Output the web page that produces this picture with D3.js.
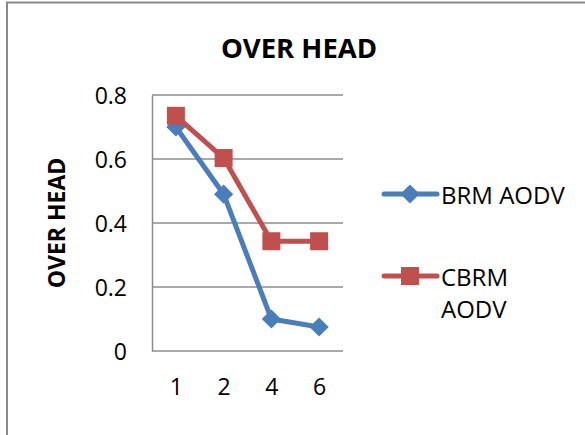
<!DOCTYPE html>
<html>
<head>
<meta charset="utf-8">
<script src="https://cdn.jsdelivr.net/npm/d3@7"></script>
<style>
  body { margin: 0; background: #fff; }
  text { font-family: "Open Sans", sans-serif; fill: #000; }
</style>
</head>
<body>
<div id="chart"></div>
<script>
const categories = ["1", "2", "4", "6"];
const brmValues = [0.70, 0.49, 0.10, 0.075];
const cbrmValues = [0.735, 0.603, 0.343, 0.343];
const yTicks = [0, 0.2, 0.4, 0.6, 0.8];
const seriesNames = ["BRM AODV", "CBRM AODV"];

const width = 585, height = 435;
const margin = { top: 95, right: 242, bottom: 84, left: 152 };

const svg = d3.select("#chart")
    .append("svg")
    .attr("width", width)
    .attr("height", height);

// outer frame (only top and left visible)
svg.append("rect")
    .attr("x", 7)
    .attr("y", 2.5)
    .attr("width", 700)
    .attr("height", 600)
    .attr("fill", "none")
    .attr("stroke", "#8a8a8a")
    .attr("stroke-width", 2);

const x = d3.scalePoint()
    .domain(categories)
    .range([margin.left, width - margin.right])
    .padding(0.5);

const y = d3.scaleLinear()
    .domain([0, 0.8])
    .range([height - margin.bottom, margin.top]);

// gridlines
svg.append("g")
    .selectAll("line")
    .data(yTicks.slice(1))
    .enter()
    .append("line")
    .attr("x1", margin.left)
    .attr("x2", width - margin.right)
    .attr("y1", d => y(d))
    .attr("y2", d => y(d))
    .attr("stroke", "#8c8c8c")
    .attr("stroke-width", 1.5);

// axes
const yAxis = svg.append("g")
    .attr("transform", `translate(${margin.left}, 0)`)
    .call(d3.axisLeft(y).tickValues(yTicks).tickSize(0).tickPadding(25).tickFormat(d => d === 0 ? "0" : d3.format(".1f")(d)));
yAxis.select(".domain").attr("stroke", "#8c8c8c").attr("stroke-width", 1.5);
yAxis.selectAll("text").attr("font-size", "23px").attr("font-family", "Open Sans").attr("dy", "0.36em");

const xAxis = svg.append("g")
    .attr("transform", `translate(0, ${height - margin.bottom})`)
    .call(d3.axisBottom(x).tickSize(0).tickPadding(28));
xAxis.select(".domain").attr("d", `M${margin.left},0H${width - margin.right}`)
    .attr("stroke", "#8c8c8c").attr("stroke-width", 1.5);
xAxis.selectAll("text").attr("font-size", "23px").attr("font-family", "Open Sans");

// title
svg.append("text")
    .attr("x", 299)
    .attr("y", 58)
    .attr("text-anchor", "middle")
    .attr("font-size", "27.5px")
    .attr("font-weight", "bold")
    .text("OVER HEAD");

// y axis title
svg.append("text")
    .attr("transform", `translate(65, ${(margin.top + height - margin.bottom) / 2}) rotate(-90)`)
    .attr("text-anchor", "middle")
    .attr("font-size", "23px")
    .attr("font-weight", "bold")
    .text("OVER HEAD");

const line = d3.line()
    .x((d, i) => x(categories[i]))
    .y(d => y(d));

const blue = "#4a7ebb", red = "#c0504d";

svg.append("path")
    .datum(brmValues)
    .attr("d", line)
    .attr("fill", "none")
    .attr("stroke", blue)
    .attr("stroke-width", 5)
    .attr("stroke-linejoin", "round");

svg.selectAll("path.diamond")
    .data(brmValues)
    .enter()
    .append("path")
    .attr("class", "diamond")
    .attr("transform", (d, i) => `translate(${x(categories[i])}, ${y(d)}) rotate(45)`)
    .attr("d", "M-6.8,-6.8H6.8V6.8H-6.8Z")
    .attr("fill", blue);

svg.append("path")
    .datum(cbrmValues)
    .attr("d", line)
    .attr("fill", "none")
    .attr("stroke", red)
    .attr("stroke-width", 5)
    .attr("stroke-linejoin", "round");

svg.selectAll("rect.sq")
    .data(cbrmValues)
    .enter()
    .append("rect")
    .attr("class", "sq")
    .attr("x", (d, i) => x(categories[i]) - 9)
    .attr("y", d => y(d) - 9)
    .attr("width", 18)
    .attr("height", 18)
    .attr("fill", red);

// legend
const legend = svg.append("g");

legend.append("line")
    .attr("x1", 384).attr("x2", 437)
    .attr("y1", 194).attr("y2", 194)
    .attr("stroke", blue).attr("stroke-width", 5).attr("stroke-linecap", "round");
legend.append("path")
    .attr("transform", "translate(410, 194) rotate(45)")
    .attr("d", "M-6.8,-6.8H6.8V6.8H-6.8Z")
    .attr("fill", blue);
legend.append("text")
    .attr("x", 441).attr("y", 204)
    .attr("font-size", "24px")
    .text(seriesNames[0]);

legend.append("line")
    .attr("x1", 384).attr("x2", 437)
    .attr("y1", 276).attr("y2", 276)
    .attr("stroke", red).attr("stroke-width", 5).attr("stroke-linecap", "round");
legend.append("rect")
    .attr("x", 401).attr("y", 267)
    .attr("width", 18).attr("height", 18)
    .attr("fill", red);
const cb = legend.append("text")
    .attr("x", 441).attr("y", 286)
    .attr("font-size", "24px");
cb.append("tspan").attr("x", 441).text(seriesNames[1].split(" ")[0]);
cb.append("tspan").attr("x", 441).attr("dy", 32).text(seriesNames[1].split(" ")[1]);
</script>
</body>
</html>
